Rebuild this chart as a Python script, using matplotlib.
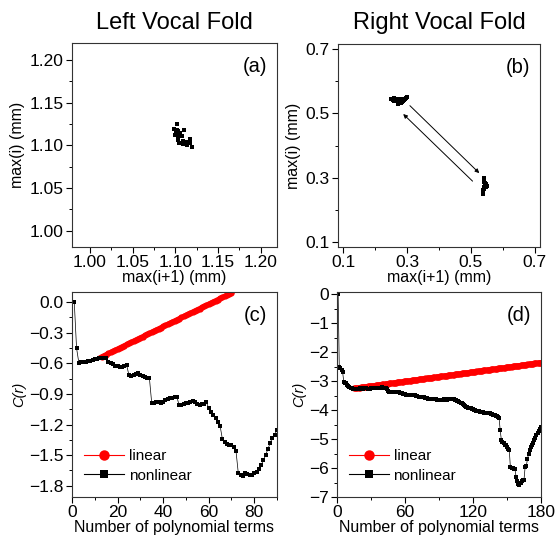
import matplotlib
matplotlib.use('Agg')
import matplotlib.pyplot as plt
from matplotlib.lines import Line2D
from matplotlib.ticker import MultipleLocator

plt.rcParams['font.family'] = ['Liberation Sans', 'DejaVu Sans']

# (a) left vocal fold return map
left_x = [1.1022, 1.0983, 1.1014, 1.1034, 1.1006, 1.1046, 1.0995, 1.1053, 1.1100, 1.1026,
          1.1073, 1.1092, 1.1112, 1.1131, 1.1151, 1.1170, 1.1139, 1.1124, 1.1190, 1.1170,
          1.1046, 1.1085, 1.1034, 1.1014, 1.1030, 1.1038, 1.1124, 1.1139, 1.1116, 1.1151, 1.1104]
left_y = [1.1249, 1.1191, 1.1179, 1.1160, 1.1140, 1.1128, 1.1121, 1.1140, 1.1179, 1.1101,
          1.1109, 1.1054, 1.1031, 1.1042, 1.1023, 1.1070, 1.1003, 1.1011, 1.0984, 1.1031,
          1.1023, 1.1015, 1.1062, 1.1152, 1.1170, 1.1148, 1.1031, 1.1031, 1.1015, 1.1046, 1.1031]

# (b) right vocal fold return map
right_x = [0.250, 0.255, 0.258, 0.262, 0.265, 0.268, 0.270, 0.273, 0.275, 0.278, 0.280, 0.283,
           0.285, 0.288, 0.290, 0.293, 0.296, 0.299, 0.272, 0.275, 0.266, 0.260, 0.287, 0.282,
           0.541, 0.542, 0.540, 0.541, 0.543, 0.545, 0.548, 0.550, 0.546, 0.544, 0.542, 0.540,
           0.539, 0.538, 0.537, 0.543, 0.547]
right_y = [0.545, 0.543, 0.547, 0.541, 0.544, 0.540, 0.546, 0.538, 0.542, 0.544, 0.539, 0.541,
           0.536, 0.540, 0.543, 0.545, 0.548, 0.550, 0.528, 0.535, 0.537, 0.540, 0.545, 0.533,
           0.300, 0.295, 0.290, 0.285, 0.280, 0.277, 0.275, 0.273, 0.272, 0.276, 0.270, 0.265,
           0.260, 0.255, 0.250, 0.283, 0.279]
arrows_b = [((0.309, 0.524), (0.526, 0.314)), ((0.505, 0.289), (0.288, 0.498))]

# (c) correlation sum, left fold
terms_c = list(range(1, 91))
nonlin_c = [0.00, -0.45, -0.594, -0.590, -0.587, -0.583, -0.578, -0.572, -0.566, -0.560,
            -0.556, -0.552, -0.550, -0.548, -0.545, -0.585, -0.600, -0.605, -0.625, -0.630,
            -0.638, -0.632, -0.625, -0.618, -0.715, -0.725, -0.710, -0.700, -0.695, -0.712,
            -0.728, -0.735, -0.742, -0.748, -0.990, -0.985, -0.980, -0.975, -0.985, -0.975,
            -0.960, -0.950, -0.942, -0.935, -0.930, -0.926, -1.007, -1.005, -1.000, -0.992,
            -0.985, -0.975, -0.965, -0.975, -0.995, -1.005, -1.000, -0.995, -0.978, -1.040,
            -1.080, -1.110, -1.138, -1.170, -1.210, -1.340, -1.370, -1.390, -1.400, -1.405,
            -1.415, -1.460, -1.675, -1.690, -1.700, -1.675, -1.680, -1.690, -1.695, -1.675,
            -1.660, -1.640, -1.600, -1.550, -1.500, -1.440, -1.380, -1.330, -1.300, -1.250]
lin_terms_c = list(range(13, 71))
lin_c = [-0.535, -0.524, -0.513, -0.502, -0.491, -0.480, -0.469, -0.458, -0.447, -0.436,
         -0.425, -0.414, -0.403, -0.392, -0.381, -0.370, -0.359, -0.348, -0.337, -0.326,
         -0.315, -0.304, -0.293, -0.282, -0.271, -0.260, -0.249, -0.238, -0.227, -0.216,
         -0.205, -0.194, -0.183, -0.172, -0.161, -0.150, -0.139, -0.128, -0.117, -0.106,
         -0.095, -0.084, -0.073, -0.062, -0.051, -0.040, -0.029, -0.018, -0.007, 0.004,
         0.015, 0.026, 0.037, 0.048, 0.059, 0.070, 0.081, 0.092]

# (d) correlation sum, right fold
terms_d = list(range(1, 181))
nonlin_d = [0.00, -2.50, -2.55, -2.62, -2.70, -3.02, -3.05, -3.07, -3.12, -3.18,
            -3.20, -3.22, -3.24, -3.26, -3.27, -3.27, -3.28, -3.27, -3.26, -3.25,
            -3.25, -3.26, -3.26, -3.25, -3.24, -3.25, -3.26, -3.27, -3.26, -3.25,
            -3.24, -3.24, -3.25, -3.24, -3.23, -3.22, -3.22, -3.23, -3.22, -3.21,
            -3.22, -3.22, -3.24, -3.28, -3.33, -3.36, -3.37, -3.37, -3.38, -3.37,
            -3.38, -3.37, -3.36, -3.36, -3.38, -3.40, -3.42, -3.44, -3.45, -3.45,
            -3.46, -3.46, -3.47, -3.48, -3.48, -3.47, -3.47, -3.46, -3.47, -3.50,
            -3.52, -3.53, -3.54, -3.54, -3.53, -3.54, -3.56, -3.58, -3.59, -3.60,
            -3.61, -3.62, -3.63, -3.62, -3.61, -3.62, -3.63, -3.64, -3.65, -3.65,
            -3.65, -3.64, -3.64, -3.63, -3.63, -3.64, -3.64, -3.63, -3.63, -3.63,
            -3.62, -3.63, -3.63, -3.64, -3.66, -3.67, -3.68, -3.71, -3.74, -3.77,
            -3.80, -3.83, -3.86, -3.88, -3.90, -3.92, -3.93, -3.94, -3.95, -3.97,
            -3.98, -4.00, -4.02, -4.03, -4.04, -4.05, -4.06, -4.07, -4.08, -4.09,
            -4.09, -4.10, -4.10, -4.11, -4.11, -4.13, -4.15, -4.17, -4.18, -4.19,
            -4.21, -4.25, -4.26, -4.70, -5.02, -5.10, -5.15, -5.20, -5.22, -5.28,
            -5.33, -5.38, -5.98, -6.00, -6.01, -6.02, -6.03, -6.30, -6.45, -6.55,
            -6.60, -6.50, -6.45, -6.42, -6.40, -5.96, -5.94, -5.70, -5.52, -5.38,
            -5.28, -5.20, -5.12, -5.02, -4.95, -4.87, -4.80, -4.72, -4.65, -4.58]
lin_terms_d = list(range(15, 181))
lin_d = [-3.247, -3.242, -3.236, -3.231, -3.225, -3.220, -3.215, -3.209, -3.204, -3.198,
         -3.193, -3.188, -3.182, -3.177, -3.171, -3.166, -3.161, -3.155, -3.150, -3.144,
         -3.139, -3.134, -3.128, -3.123, -3.117, -3.112, -3.107, -3.101, -3.096, -3.090,
         -3.085, -3.080, -3.074, -3.069, -3.063, -3.058, -3.053, -3.047, -3.042, -3.036,
         -3.031, -3.026, -3.020, -3.015, -3.009, -3.004, -2.999, -2.993, -2.988, -2.982,
         -2.977, -2.972, -2.966, -2.961, -2.955, -2.950, -2.945, -2.939, -2.934, -2.928,
         -2.923, -2.918, -2.912, -2.907, -2.901, -2.896, -2.891, -2.885, -2.880, -2.874,
         -2.869, -2.864, -2.858, -2.853, -2.847, -2.842, -2.837, -2.831, -2.826, -2.820,
         -2.815, -2.810, -2.804, -2.799, -2.793, -2.788, -2.783, -2.777, -2.772, -2.766,
         -2.761, -2.756, -2.750, -2.745, -2.739, -2.734, -2.729, -2.723, -2.718, -2.712,
         -2.707, -2.702, -2.696, -2.691, -2.685, -2.680, -2.675, -2.669, -2.664, -2.658,
         -2.653, -2.648, -2.642, -2.637, -2.631, -2.626, -2.621, -2.615, -2.610, -2.604,
         -2.599, -2.594, -2.588, -2.583, -2.577, -2.572, -2.567, -2.561, -2.556, -2.550,
         -2.545, -2.540, -2.534, -2.529, -2.523, -2.518, -2.513, -2.507, -2.502, -2.496,
         -2.491, -2.486, -2.480, -2.475, -2.469, -2.464, -2.459, -2.453, -2.448, -2.442,
         -2.437, -2.432, -2.426, -2.421, -2.415, -2.410, -2.405, -2.399, -2.394, -2.388,
         -2.383, -2.378, -2.372, -2.367, -2.361, -2.356]

W, H = 555, 540
fig = plt.figure(figsize=(W / 100, H / 100), dpi=100)


def box(l, t, r, b):
    return [l / W, 1 - b / H, (r - l) / W, (b - t) / H]


ax_a = fig.add_axes(box(72, 43, 277, 247))
ax_b = fig.add_axes(box(338, 44, 540, 247))
ax_c = fig.add_axes(box(72, 292, 277, 497))
ax_d = fig.add_axes(box(337, 292, 541, 497))


def style(ax, xmaj, ymaj, xoff=0.0, yoff=0.0):
    ax.xaxis.set_major_locator(MultipleLocator(xmaj, offset=xoff))
    ax.xaxis.set_minor_locator(MultipleLocator(xmaj / 2))
    ax.yaxis.set_major_locator(MultipleLocator(ymaj, offset=yoff))
    ax.yaxis.set_minor_locator(MultipleLocator(ymaj / 2))
    ax.tick_params(which='both', direction='out', top=False, right=False, labelsize=12.5, pad=2)
    ax.tick_params(which='major', length=4, width=0.8)
    ax.tick_params(which='minor', length=2.5, width=0.7)
    for s in ax.spines.values():
        s.set_linewidth(0.8)
        s.set_color('#333333')


# legend keys: thin line with a large marker, as in the original
legend_keys = [Line2D([], [], color='red', lw=0.8, marker='o', markersize=7.5, markeredgewidth=0),
               Line2D([], [], color='black', lw=0.8, marker='s', markersize=5.5, markeredgewidth=0)]


def fold_legend(ax):
    ax.legend(legend_keys, ['linear', 'nonlinear'], loc='lower left', bbox_to_anchor=(0.03, 0.04),
              frameon=False, fontsize=11, handlelength=2.6, handletextpad=0.3,
              labelspacing=0.35, borderaxespad=0)


# (a)
ax_a.scatter(left_x, left_y, s=6, c='black', marker='s', linewidths=0)
ax_a.set_xlim(0.979, 1.219)
ax_a.set_ylim(0.981, 1.220)
style(ax_a, 0.05, 0.05)
ax_a.xaxis.set_major_formatter('{x:.2f}')
ax_a.yaxis.set_major_formatter('{x:.2f}')
ax_a.set_xlabel('max(i+1) (mm)', fontsize=11.5, labelpad=0)
ax_a.set_ylabel('max(i) (mm)', fontsize=11.5, labelpad=3)
ax_a.text(0.95, 0.93, '(a)', transform=ax_a.transAxes, fontsize=14.5, ha='right', va='top')

# (b)
ax_b.scatter(right_x, right_y, s=6, c='black', marker='s', linewidths=0)
for start, end in arrows_b:
    ax_b.annotate('', xy=end, xytext=start,
                  arrowprops=dict(arrowstyle='-|>', color='black', lw=0.7,
                                  mutation_scale=6, shrinkA=0, shrinkB=0))
ax_b.set_xlim(0.084, 0.716)
ax_b.set_ylim(0.084, 0.716)
style(ax_b, 0.2, 0.2, 0.1, 0.1)
ax_b.xaxis.set_minor_locator(MultipleLocator(0.2))
ax_b.yaxis.set_minor_locator(MultipleLocator(0.2))
ax_b.xaxis.set_major_formatter('{x:.1f}')
ax_b.yaxis.set_major_formatter('{x:.1f}')
ax_b.set_xlabel('max(i+1) (mm)', fontsize=11.5, labelpad=0)
ax_b.set_ylabel('max(i) (mm)', fontsize=11.5, labelpad=3)
ax_b.text(0.95, 0.93, '(b)', transform=ax_b.transAxes, fontsize=14.5, ha='right', va='top')

# (c)
ax_c.plot(lin_terms_c, lin_c, color='red', marker='o', markersize=4.5, lw=3.5,
          markeredgewidth=0)
ax_c.plot(terms_c, nonlin_c, color='black', marker='s', markersize=3.5, lw=0.5,
          markeredgewidth=0)
ax_c.set_xlim(0, 90)
ax_c.set_ylim(-1.91, 0.1)
style(ax_c, 20, 0.3)
ax_c.yaxis.set_major_formatter('{x:.1f}')
ax_c.set_xlabel('Number of polynomial terms', fontsize=11.5, labelpad=0)
ax_c.set_ylabel('C(r)', fontsize=10.5, fontstyle='italic', labelpad=2)
ax_c.text(0.95, 0.93, '(c)', transform=ax_c.transAxes, fontsize=14.5, ha='right', va='top')
fold_legend(ax_c)

# (d)
ax_d.plot(lin_terms_d, lin_d, color='red', marker='o', markersize=4.5, lw=3.5,
          markeredgewidth=0)
ax_d.plot(terms_d, nonlin_d, color='black', marker='s', markersize=3.5, lw=0.5,
          markeredgewidth=0)
ax_d.set_xlim(0, 180)
ax_d.set_ylim(-7, 0.08)
style(ax_d, 60, 1)
ax_d.set_xlabel('Number of polynomial terms', fontsize=11.5, labelpad=0)
ax_d.set_ylabel('C(r)', fontsize=10.5, fontstyle='italic', labelpad=2)
ax_d.text(0.95, 0.93, '(d)', transform=ax_d.transAxes, fontsize=14.5, ha='right', va='top')
fold_legend(ax_d)

fig.text(174.5 / W, 1 - 23 / H, 'Left Vocal Fold', fontsize=17, ha='center', va='center')
fig.text(439 / W, 1 - 23 / H, 'Right Vocal Fold', fontsize=17, ha='center', va='center')

fig.savefig('out.png', dpi=100)
